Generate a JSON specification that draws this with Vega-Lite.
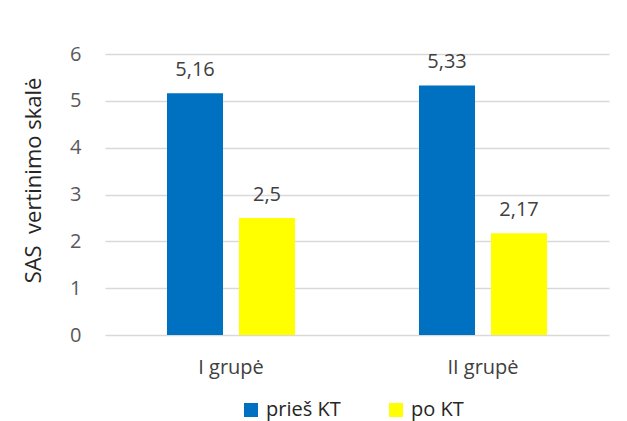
{
  "$schema": "https://vega.github.io/schema/vega-lite/v6.json",
  "width": 504,
  "height": 281,
  "autosize": {"type": "none"},
  "padding": {"left": 105, "top": 54, "right": 18, "bottom": 86},
  "background": "white",
  "data": {
    "values": [
      {"grupe": "I grupė", "laikas": "prieš KT", "reiksme": 5.16},
      {"grupe": "I grupė", "laikas": "po KT", "reiksme": 2.5},
      {"grupe": "II grupė", "laikas": "prieš KT", "reiksme": 5.33},
      {"grupe": "II grupė", "laikas": "po KT", "reiksme": 2.17}
    ]
  },
  "encoding": {
    "x": {
      "field": "grupe",
      "type": "nominal",
      "sort": ["I grupė", "II grupė"],
      "scale": {"paddingInner": 0.492, "paddingOuter": 0.246},
      "axis": {
        "title": null,
        "labelAngle": 0,
        "domain": false,
        "ticks": false,
        "labelPadding": 22,
        "labelFont": "Open Sans",
        "labelFontSize": 20,
        "labelColor": "#404040"
      }
    },
    "xOffset": {
      "field": "laikas",
      "type": "nominal",
      "sort": ["prieš KT", "po KT"],
      "scale": {"paddingInner": 0.222, "paddingOuter": 0}
    },
    "y": {
      "field": "reiksme",
      "type": "quantitative",
      "scale": {"domain": [0, 6], "nice": false},
      "axis": {
        "values": [0, 1, 2, 3, 4, 5, 6],
        "title": "SAS\u00a0 vertinimo skalė",
        "titleFont": "Open Sans",
        "titleFontSize": 22,
        "titleFontWeight": "normal",
        "titleColor": "#262626",
        "titlePadding": 24,
        "titleY": 126,
        "domain": false,
        "ticks": false,
        "labelPadding": 24,
        "labelFont": "Open Sans",
        "labelFontSize": 20,
        "labelColor": "#595959",
        "gridColor": "#d9d9d9",
        "gridWidth": 1.3
      }
    }
  },
  "layer": [
    {
      "mark": {"type": "bar"},
      "encoding": {
        "color": {
          "field": "laikas",
          "type": "nominal",
          "sort": ["prieš KT", "po KT"],
          "scale": {"domain": ["prieš KT", "po KT"], "range": ["#0070C0", "#FFFF00"]},
          "legend": {
            "title": null,
            "orient": "none",
            "direction": "horizontal",
            "legendX": 136,
            "legendY": 346,
            "symbolType": "square",
            "symbolSize": 196,
            "symbolStrokeWidth": 0,
            "symbolOpacity": 1,
            "labelFont": "Open Sans",
            "labelFontSize": 20,
            "labelColor": "#262626",
            "labelOffset": 5,
            "columnPadding": 45
          }
        }
      }
    },
    {
      "mark": {
        "type": "text",
        "baseline": "alphabetic",
        "dy": -17,
        "font": "Open Sans",
        "fontSize": 20,
        "color": "#404040"
      },
      "encoding": {
        "text": {"field": "reiksme", "type": "quantitative", "format": "~g"}
      }
    }
  ],
  "config": {
    "view": {"stroke": null},
    "locale": {
      "number": {"decimal": ",", "thousands": " ", "grouping": [3], "currency": ["", " €"]}
    }
  }
}
